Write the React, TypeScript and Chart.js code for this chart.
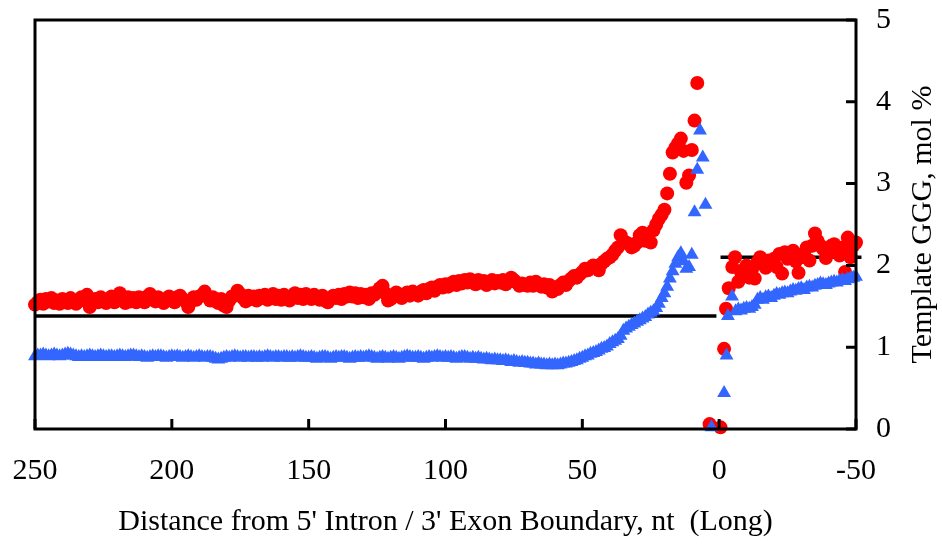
import React, { useEffect, useRef } from 'react';
import { Chart, registerables } from 'chart.js';

Chart.register(...registerables);

// ---------- data ----------
// red circles: x = 250, 249, ... , 8
const redMain = [
  1.52, 1.55, 1.58, 1.53, 1.59, 1.56, 1.60, 1.54, 1.57, 1.53,
  1.59, 1.56, 1.54, 1.60, 1.57, 1.53, 1.56, 1.61, 1.58, 1.64,
  1.49, 1.55, 1.59, 1.55, 1.61, 1.57, 1.54, 1.58, 1.62, 1.55,
  1.59, 1.66, 1.58, 1.54, 1.61, 1.56, 1.60, 1.55, 1.61, 1.58,
  1.55, 1.62, 1.65, 1.59, 1.56, 1.61, 1.58, 1.54, 1.59, 1.62,
  1.58, 1.55, 1.61, 1.63, 1.59, 1.56, 1.49, 1.56, 1.61, 1.58,
  1.62, 1.64, 1.68, 1.62, 1.57, 1.61, 1.56, 1.54, 1.59, 1.51,
  1.49, 1.57, 1.62, 1.63, 1.69, 1.65, 1.60, 1.56, 1.63, 1.59,
  1.62, 1.57, 1.63, 1.60, 1.64, 1.58, 1.61, 1.65, 1.59, 1.63,
  1.58, 1.64, 1.61, 1.57, 1.63, 1.66, 1.60, 1.64, 1.59, 1.65,
  1.62, 1.59, 1.64, 1.61, 1.58, 1.63, 1.57, 1.55, 1.60, 1.63,
  1.60, 1.64, 1.59, 1.65, 1.62, 1.67, 1.62, 1.66, 1.60, 1.65,
  1.61, 1.64, 1.59, 1.66, 1.64, 1.68, 1.72, 1.75, 1.66, 1.57,
  1.59, 1.62, 1.67, 1.64, 1.60, 1.63, 1.67, 1.63, 1.68, 1.65,
  1.63, 1.68, 1.70, 1.66, 1.71, 1.73, 1.69, 1.74, 1.76, 1.73,
  1.77, 1.74, 1.78, 1.80, 1.76, 1.81, 1.78, 1.82, 1.79, 1.83,
  1.80, 1.77, 1.82, 1.79, 1.81, 1.76, 1.79, 1.82, 1.78, 1.81,
  1.79, 1.82, 1.77, 1.80, 1.85, 1.82, 1.79, 1.75, 1.78, 1.76,
  1.75, 1.79, 1.75, 1.80, 1.77, 1.74, 1.77, 1.73, 1.76, 1.68,
  1.73, 1.71, 1.76, 1.79, 1.76, 1.81, 1.84, 1.87, 1.85, 1.89,
  1.92, 1.96, 1.94, 1.97, 2.00, 1.98, 1.94, 2.02, 2.05, 2.08,
  2.10, 2.13, 2.18, 2.22, 2.37, 2.30, 2.28, 2.26, 2.22, 2.24,
  2.28, 2.37, 2.40, 2.30, 2.33, 2.28, 2.43, 2.50, 2.57, 2.62,
  2.68, 2.88, 3.12, 3.38, 3.44, 3.49, 3.55, 3.40, 3.01, 3.10,
  3.41, 3.77, 4.23,
];
const redMainStart = 250;
// red circles around the boundary
const redEdgeX = [3.5, -0.5, -1.8, -2.5, -3.5, -4.8, -5.8];
const redEdgeY = [0.06, 0.02, 0.98, 1.47, 1.72, 1.98, 2.10];
// red circles: x = -7 ... -50
const redTail = [
  1.80, 1.92, 1.95, 2.00, 1.85, 1.95, 1.84, 2.04, 2.10, 2.02,
  1.97, 2.06, 2.02, 2.08, 1.98, 2.14, 1.90, 2.16, 2.08, 2.12,
  2.18, 2.05, 1.91, 2.10, 2.15, 2.22, 2.06, 2.24, 2.39, 2.30,
  2.24, 2.20, 2.09, 2.15, 2.24, 2.26, 2.18, 2.12, 2.22, 1.92,
  2.34, 2.10, 2.24, 2.28,
];
const redTailStart = -7;

// blue triangles: x = 250, 249, ... , 5
const blueMain = [
  0.89, 0.90, 0.90, 0.91, 0.90, 0.89, 0.90, 0.91, 0.90, 0.89,
  0.90, 0.91, 0.92, 0.91, 0.90, 0.89, 0.88, 0.89, 0.88, 0.89,
  0.90, 0.89, 0.88, 0.89, 0.90, 0.89, 0.88, 0.89, 0.89, 0.88,
  0.89, 0.90, 0.89, 0.88, 0.89, 0.90, 0.90, 0.89, 0.88, 0.89,
  0.88, 0.87, 0.88, 0.89, 0.88, 0.89, 0.89, 0.88, 0.87, 0.88,
  0.89, 0.88, 0.89, 0.88, 0.87, 0.88, 0.89, 0.88, 0.87, 0.88,
  0.89, 0.88, 0.87, 0.88, 0.88, 0.87, 0.86, 0.85, 0.86, 0.87,
  0.88, 0.87, 0.88, 0.89, 0.88, 0.87, 0.88, 0.88, 0.87, 0.88,
  0.88, 0.87, 0.88, 0.87, 0.88, 0.89, 0.88, 0.87, 0.88, 0.88,
  0.87, 0.88, 0.88, 0.87, 0.88, 0.87, 0.88, 0.89, 0.88, 0.87,
  0.87, 0.88, 0.87, 0.86, 0.87, 0.88, 0.88, 0.87, 0.86, 0.87,
  0.88, 0.87, 0.88, 0.88, 0.87, 0.86, 0.87, 0.88, 0.87, 0.88,
  0.87, 0.88, 0.89, 0.88, 0.87, 0.86, 0.87, 0.88, 0.87, 0.86,
  0.87, 0.88, 0.87, 0.86, 0.87, 0.88, 0.89, 0.88, 0.87, 0.87,
  0.88, 0.87, 0.86, 0.87, 0.88, 0.87, 0.88, 0.89, 0.88, 0.87,
  0.88, 0.87, 0.88, 0.87, 0.86, 0.87, 0.88, 0.88, 0.87, 0.86,
  0.87, 0.86, 0.87, 0.86, 0.85, 0.86, 0.85, 0.84, 0.85, 0.84,
  0.84, 0.83, 0.84, 0.83, 0.82, 0.83, 0.82, 0.81, 0.82, 0.81,
  0.81, 0.80, 0.80, 0.79, 0.80, 0.79, 0.79, 0.78, 0.79, 0.78,
  0.79, 0.78, 0.79, 0.80, 0.80, 0.81, 0.82, 0.83, 0.84, 0.86,
  0.87, 0.89, 0.90, 0.92, 0.93, 0.94, 0.96, 0.98, 0.99, 1.01,
  1.04, 1.06, 1.08, 1.10, 1.14, 1.20, 1.23, 1.25, 1.27, 1.29,
  1.31, 1.33, 1.35, 1.37, 1.40, 1.42, 1.44, 1.48, 1.53, 1.60,
  1.66, 1.74, 1.84, 1.93, 2.02, 2.10, 2.15, 2.05, 1.96, 1.98,
  2.13, 2.65, 3.17, 3.65, 3.32, 2.74,
];
const blueMainStart = 250;
// blue triangles around the boundary
const blueEdgeX = [2.8, -1.8, -2.7, -3.2, -4.7];
const blueEdgeY = [0.02, 0.44, 0.90, 1.38, 1.62];
// blue triangles: x = -6 ... -50
const blueTail = [
  1.44, 1.46, 1.45, 1.47, 1.48, 1.47, 1.49, 1.52, 1.58, 1.60,
  1.58, 1.61, 1.62, 1.60, 1.63, 1.65, 1.64, 1.66, 1.67, 1.66,
  1.68, 1.70, 1.69, 1.71, 1.72, 1.70, 1.73, 1.74, 1.73, 1.75,
  1.76, 1.78, 1.77, 1.76, 1.78, 1.79, 1.80, 1.79, 1.81, 1.82,
  1.81, 1.83, 1.84, 1.85, 1.86,
];
const blueTailStart = -6;

// black reference lines
const refLowX = [250, 1];
const refLowY = 1.38;
const refHighX = [-0.5, -52];
const refHighY = 2.1;

const xMin = -50;
const xMax = 250;
const xStep = 50;
const yMin = 0;
const yMax = 5;
const yStep = 1;

const xTitle = "Distance from 5' Intron / 3' Exon Boundary, nt  (Long)";
const yTitle = 'Template GGG, mol %';

const FONT = "'Liberation Serif', 'Times New Roman', serif";
const FONT_SIZE = 30;

const framePlugin = {
  id: 'frame',
  afterDraw(chart: any) {
    const { ctx, chartArea, scales } = chart;
    const { left, right, top, bottom } = chartArea;
    ctx.save();
    ctx.strokeStyle = '#000';
    ctx.lineWidth = 3;
    ctx.strokeRect(left, top, right - left, bottom - top);
    // inward ticks
    const tl = 10;
    ctx.beginPath();
    scales.x.ticks.forEach((t: any) => {
      const px = scales.x.getPixelForValue(t.value);
      ctx.moveTo(px, bottom);
      ctx.lineTo(px, bottom - tl);
    });
    scales.y.ticks.forEach((t: any) => {
      const py = scales.y.getPixelForValue(t.value);
      ctx.moveTo(right, py);
      ctx.lineTo(right - tl, py);
    });
    ctx.stroke();
    // right axis title, reading bottom-to-top
    ctx.fillStyle = '#000';
    ctx.font = `${FONT_SIZE}px ${FONT}`;
    ctx.translate(931, (top + bottom) / 2);
    ctx.rotate(-Math.PI / 2);
    ctx.textAlign = 'center';
    ctx.textBaseline = 'alphabetic';
    ctx.fillText(yTitle, 0, 0);
    ctx.restore();
  },
};

export default function App() {
  const ref = useRef<HTMLCanvasElement>(null);

  useEffect(() => {
    if (!ref.current) return;
    const redData = [
      ...redMain.map((v, i) => ({ x: redMainStart - i, y: v })),
      ...redEdgeX.map((x, i) => ({ x, y: redEdgeY[i] })),
      ...redTail.map((v, i) => ({ x: redTailStart - i, y: v })),
    ];
    const blueData = [
      ...blueMain.map((v, i) => ({ x: blueMainStart - i, y: v })),
      ...blueEdgeX.map((x, i) => ({ x, y: blueEdgeY[i] })),
      ...blueTail.map((v, i) => ({ x: blueTailStart - i, y: v })),
    ];
    const chart = new Chart(ref.current, {
      type: 'scatter',
      data: {
        datasets: [
          {
            label: 'blue',
            data: blueData,
            pointStyle: 'triangle',
            pointRadius: 8,
            pointBackgroundColor: '#3366FF',
            pointBorderColor: '#3366FF',
            pointBorderWidth: 0,
            showLine: false,
            clip: false,
          } as any,
          {
            label: 'red',
            data: redData,
            pointStyle: 'circle',
            pointRadius: 7,
            pointBackgroundColor: '#FF0000',
            pointBorderColor: '#FF0000',
            pointBorderWidth: 0,
            showLine: false,
            clip: false,
          } as any,
          {
            type: 'line',
            label: 'low',
            data: refLowX.map((x) => ({ x, y: refLowY })),
            borderColor: '#000',
            borderWidth: 3.5,
            pointRadius: 0,
            showLine: true,
            clip: false,
          } as any,
          {
            type: 'line',
            label: 'high',
            data: refHighX.map((x) => ({ x, y: refHighY })),
            borderColor: '#000',
            borderWidth: 3.5,
            pointRadius: 0,
            showLine: true,
            clip: false,
          } as any,
        ],
      },
      options: {
        animation: false,
        responsive: true,
        maintainAspectRatio: false,
        layout: { padding: { left: 35, top: 20, right: 0, bottom: 0 } },
        plugins: {
          legend: { display: false },
          tooltip: { enabled: false },
        },
        scales: {
          x: {
            type: 'linear',
            position: 'bottom',
            reverse: true,
            min: xMin,
            max: xMax,
            grid: { display: false, drawTicks: false },
            border: { display: false },
            ticks: {
              stepSize: xStep,
              color: '#000',
              font: { family: FONT, size: FONT_SIZE },
              padding: 24,
              maxRotation: 0,
              autoSkip: false,
            },
            title: {
              display: true,
              text: xTitle,
              color: '#000',
              font: { family: FONT, size: FONT_SIZE },
              padding: { top: 0, bottom: 6 },
            },
            afterFit(scale: any) {
              scale.height = 117;
              scale.paddingLeft = 0;
              scale.paddingRight = 0;
            },
          },
          y: {
            type: 'linear',
            position: 'right',
            min: yMin,
            max: yMax,
            grid: { display: false, drawTicks: false },
            border: { display: false },
            ticks: {
              stepSize: yStep,
              color: '#000',
              font: { family: FONT, size: FONT_SIZE },
              padding: 20,
            },
            afterFit(scale: any) {
              scale.width = 86;
              scale.paddingTop = 0;
              scale.paddingBottom = 0;
            },
          },
        },
      },
      plugins: [framePlugin],
    });
    return () => chart.destroy();
  }, []);

  return (
    <div style={{ position: 'fixed', left: 0, top: 0, width: 942, height: 546, background: '#fff' }}>
      <canvas ref={ref} />
    </div>
  );
}
